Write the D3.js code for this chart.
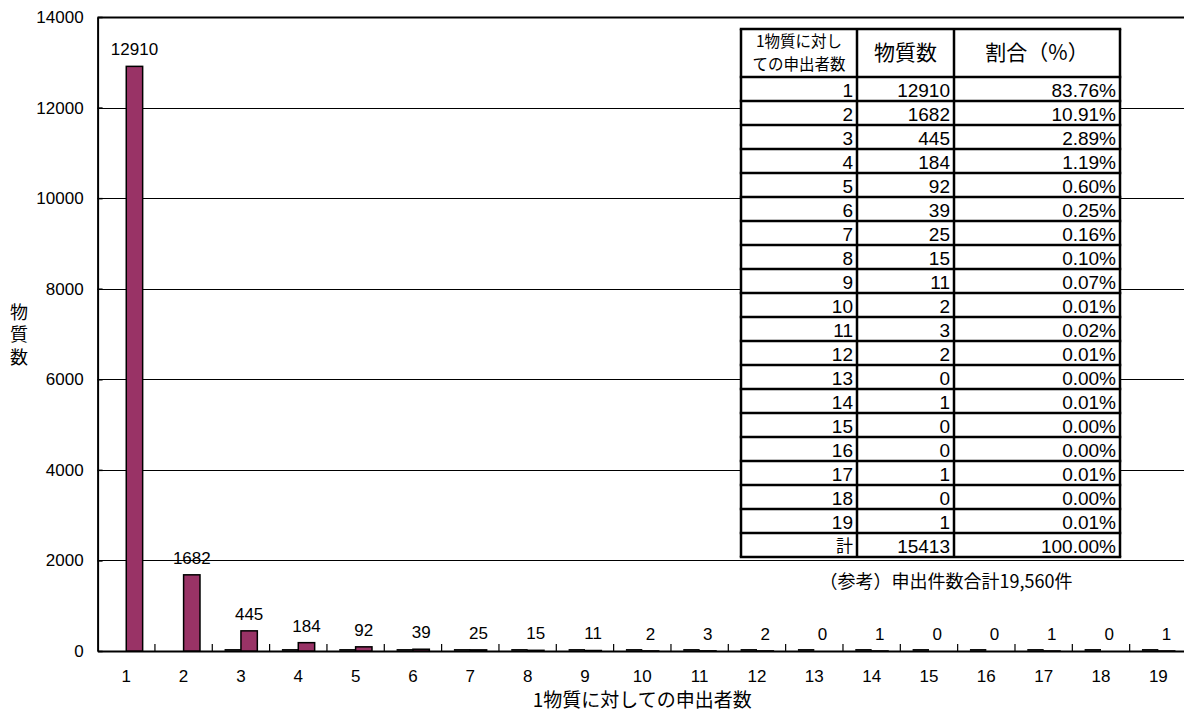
<!DOCTYPE html>
<html>
<head>
<meta charset="utf-8">
<script src="https://cdn.jsdelivr.net/npm/d3@7"></script>
<style>
  body { margin: 0; background: #fff; }
  svg { display: block; font-family: "Liberation Sans", "Noto Sans CJK JP", sans-serif; }
  .jp { font-family: "Noto Sans CJK JP", sans-serif; }
</style>
</head>
<body>
<svg id="chart" width="1184" height="713"></svg>
<script>
// ---- data ----
const categories = ['1','2','3','4','5','6','7','8','9','10','11','12','13','14','15','16','17','18','19'];
const substanceCounts = [12910, 1682, 445, 184, 92, 39, 25, 15, 11, 2, 3, 2, 0, 1, 0, 0, 1, 0, 1];
const baseSeries = [null, null, 0, 0, 0, 0, 0, 0, 0, 0, 0, 0, 0, 0, 0, 0, 0, 0, 0];
const percentLabels = ['83.76%','10.91%','2.89%','1.19%','0.60%','0.25%','0.16%','0.10%','0.07%','0.01%',
                       '0.02%','0.01%','0.00%','0.01%','0.00%','0.00%','0.01%','0.00%','0.01%'];
const yTicks = [0, 2000, 4000, 6000, 8000, 10000, 12000, 14000];
const totalLabel = '計';
const totalCount = 15413;
const totalPercent = '100.00%';
const tableHeaders = [['1物質に対し', 'ての申出者数'], ['物質数'], ['割合（%）']];
const noteText = '（参考）申出件数合計19,560件';
const xTitle = '1物質に対しての申出者数';
const yTitle = '物質数';

// ---- layout ----
const svg = d3.select('#chart');
const plot = { left: 97.6, right: 1187, top: 17, bottom: 651 };
const barColor = '#993366';

const x = d3.scaleBand().domain(categories).range([plot.left, plot.right]).padding(0);
const inner = d3.scaleBand().domain(['base', 'count']).range([0, x.bandwidth()])
  .paddingInner(0).paddingOuter(0.75);
const y = d3.scaleLinear().domain([0, 14000]).range([plot.bottom, plot.top]);

// gridlines
svg.append('g').selectAll('line')
  .data(yTicks.filter(v => v > 0))
  .join('line')
  .attr('x1', plot.left).attr('x2', plot.right)
  .attr('y1', d => Math.round(y(d)) + 0.5).attr('y2', d => Math.round(y(d)) + 0.5)
  .attr('stroke', '#000')
  .attr('stroke-width', d => d === 14000 ? 2 : 1);

// y axis
const yAxis = svg.append('g')
  .attr('transform', `translate(${plot.left},0)`)
  .call(d3.axisLeft(y).tickValues(yTicks).tickFormat(d3.format('d'))
    .tickSizeInner(-5).tickSizeOuter(0).tickPadding(14));
yAxis.select('.domain').attr('stroke', '#000').attr('stroke-width', 2);
yAxis.selectAll('.tick line').attr('stroke', '#000').attr('stroke-width', 1.5);
yAxis.selectAll('.tick text')
  .attr('font-size', 17).attr('fill', '#000')
  .attr('font-family', '"Liberation Sans", sans-serif');

// x axis baseline, category labels and boundary ticks
const xAxis = svg.append('g')
  .attr('transform', `translate(0,${plot.bottom})`)
  .call(d3.axisBottom(x).tickSize(0).tickPadding(0));
xAxis.select('.domain').attr('stroke', '#000').attr('stroke-width', 2);
xAxis.selectAll('.tick text')
  .attr('y', 25).attr('dy', '0.35em')
  .attr('font-size', 17).attr('fill', '#000')
  .attr('font-family', '"Liberation Sans", sans-serif');
svg.append('g').selectAll('line')
  .data(categories.slice(1))
  .join('line')
  .attr('x1', d => x(d)).attr('x2', d => x(d))
  .attr('y1', plot.bottom).attr('y2', plot.bottom - 7)
  .attr('stroke', '#000').attr('stroke-width', 1.2);

// near-zero companion series drawn as dark slivers on the baseline
svg.append('g').selectAll('rect')
  .data(categories.map((c, i) => ({ c, v: baseSeries[i] })).filter(d => d.v !== null))
  .join('rect')
  .attr('x', d => x(d.c) + inner('base'))
  .attr('width', inner.bandwidth())
  .attr('y', d => y(d.v) - 2)
  .attr('height', d => Math.max(2, y(0) - y(d.v)))
  .attr('fill', '#111');

// main bars
const barData = categories.map((c, i) => ({ c, v: substanceCounts[i] }));
svg.append('g').selectAll('rect')
  .data(barData)
  .join('rect')
  .attr('x', d => x(d.c) + inner('count'))
  .attr('width', inner.bandwidth())
  .attr('y', d => y(d.v))
  .attr('height', d => y(0) - y(d.v))
  .attr('fill', barColor)
  .attr('stroke', '#000')
  .attr('stroke-width', 1.5);

// value labels
svg.append('g').selectAll('text')
  .data(barData)
  .join('text')
  .attr('x', d => x(d.c) + inner('count') + inner.bandwidth() / 2)
  .attr('y', d => y(d.v) - 17)
  .attr('dy', '0.35em')
  .attr('text-anchor', 'middle')
  .attr('font-size', 17)
  .text(d => d.v);

// axis titles
svg.append('text')
  .attr('class', 'jp')
  .attr('x', (plot.left + plot.right) / 2)
  .attr('y', 700).attr('dy', '0.35em')
  .attr('text-anchor', 'middle')
  .attr('font-size', 19)
  .text(xTitle);
svg.append('text')
  .attr('class', 'jp')
  .attr('x', 19)
  .attr('y', 303)
  .attr('font-size', 18)
  .style('writing-mode', 'vertical-rl')
  .style('text-orientation', 'upright')
  .style('letter-spacing', '4.5px')
  .text(yTitle);

// ---- summary table ----
const cols = [741, 857, 954, 1120];
const headTop = 29, headBottom = 77, rowH = 24;
const rows = categories.map((c, i) => [c, String(substanceCounts[i]), percentLabels[i]]);
rows.push([totalLabel, String(totalCount), totalPercent]);
const tableBottom = headBottom + rows.length * rowH;

const tbl = svg.append('g');
tbl.append('rect')
  .attr('x', cols[0]).attr('y', headTop)
  .attr('width', cols[3] - cols[0]).attr('height', tableBottom - headTop)
  .attr('fill', '#fff');

// header text (multi-line cells as tspans)
tableHeaders.forEach((lines, ci) => {
  const cx = (cols[ci] + cols[ci + 1]) / 2;
  const cy = (headTop + headBottom) / 2;
  const fs = ci === 0 ? 15.5 : 21;
  const lh = 22.6;
  const t = tbl.append('text')
    .attr('class', 'jp')
    .attr('text-anchor', 'middle')
    .attr('font-size', fs);
  lines.forEach((s, li) => {
    t.append('tspan')
      .attr('x', cx)
      .attr('y', cy + (li - (lines.length - 1) / 2) * lh)
      .attr('dy', '0.35em')
      .text(s);
  });
});

// body cells, right aligned
rows.forEach((r, ri) => {
  const top = headBottom + ri * rowH;
  r.forEach((s, ci) => {
    const isJp = /[^\x00-\x7f]/.test(s);
    tbl.append('text')
      .attr('class', isJp ? 'jp' : null)
      .attr('x', cols[ci + 1] - 4)
      .attr('y', top + rowH / 2 + 1)
      .attr('dy', '0.35em')
      .attr('text-anchor', 'end')
      .attr('font-size', isJp ? 17 : 19)
      .text(s);
  });
});

// grid lines of the table
const hLines = [headTop, headBottom].concat(rows.map((r, i) => headBottom + (i + 1) * rowH));
tbl.append('g').selectAll('line')
  .data(hLines)
  .join('line')
  .attr('x1', cols[0] - 1.25).attr('x2', cols[3] + 1.25)
  .attr('y1', d => d).attr('y2', d => d)
  .attr('stroke', '#000').attr('stroke-width', 2.5);
tbl.append('g').selectAll('line')
  .data(cols)
  .join('line')
  .attr('x1', d => d).attr('x2', d => d)
  .attr('y1', headTop).attr('y2', tableBottom)
  .attr('stroke', '#000').attr('stroke-width', 2.5);

// note below the table
svg.append('text')
  .attr('class', 'jp')
  .attr('x', 946)
  .attr('y', 582).attr('dy', '0.35em')
  .attr('text-anchor', 'middle')
  .attr('font-size', 18)
  .text(noteText);
</script>
</body>
</html>
